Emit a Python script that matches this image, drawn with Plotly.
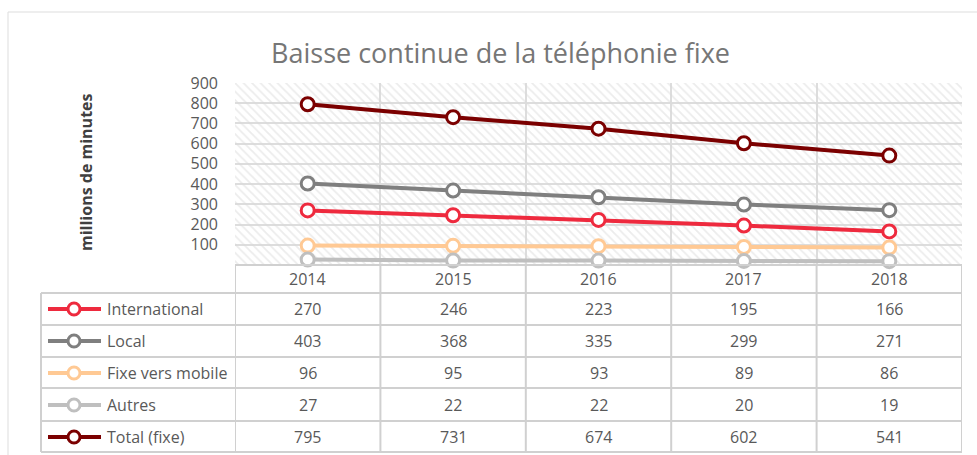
import plotly.graph_objects as go

# ---- data ----
years = ["2014", "2015", "2016", "2017", "2018"]
series_names = ["International", "Local", "Fixe vers mobile", "Autres", "Total (fixe)"]
international = [270, 246, 223, 195, 166]
local = [403, 368, 335, 299, 271]
fixe_vers_mobile = [96, 95, 93, 89, 86]
autres = [27, 22, 22, 20, 19]
total_fixe = [795, 731, 674, 602, 541]
series_values = [international, local, fixe_vers_mobile, autres, total_fixe]
series_colors = ["#ee2a3e", "#7f7f7f", "#ffc994", "#bfbfbf", "#7b0000"]
y_ticks = [100, 200, 300, 400, 500, 600, 700, 800, 900]
title_text = "Baisse continue de la téléphonie fixe"
y_title = "millions de minutes"

# ---- layout geometry (pixels) ----
W, H = 977, 455
L, R, T, B = 235, 962, 83, 265
FONT = "Open Sans"
TXT = "#595959"
GRID = "#dddddd"
TBL = "#d0d0d0"


def px(x):
    return (x - L) / (R - L)


def py(y):
    return (B - y) / (B - T)


xs = list(range(len(years)))
fig = go.Figure()

# hatched plot-area background
fig.add_trace(go.Scatter(
    x=[-0.5, len(years) - 0.5, len(years) - 0.5, -0.5, -0.5],
    y=[0, 0, 900, 900, 0],
    mode="lines", fill="toself", line=dict(width=0),
    fillcolor="rgba(0,0,0,0)",
    fillpattern=dict(shape="\\", fgcolor="#d9d9d9", bgcolor="rgba(0,0,0,0)",
                     size=6, solidity=0.3),
    hoverinfo="skip", showlegend=False))

for name, vals, col in zip(series_names, series_values, series_colors):
    fig.add_trace(go.Scatter(
        x=xs, y=vals, name=name, mode="lines+markers",
        line=dict(color=col, width=4),
        marker=dict(symbol="circle", size=13, color="white",
                    line=dict(color=col, width=3)),
        showlegend=False, cliponaxis=False))

shapes = []
annotations = []

# outer chart border
shapes.append(dict(type="rect", xref="paper", yref="paper",
                   x0=px(8), x1=px(1000), y0=py(470), y1=py(12),
                   line=dict(color=GRID, width=1), layer="below"))

# table grid
row_lines = [293, 325, 357, 388, 421, 452]
row_centers = [309, 341, 373, 405, 437]
col_bounds = [i - 0.5 for i in range(len(years) + 1)]
for yl in row_lines:
    shapes.append(dict(type="line", xref="paper", yref="paper",
                       x0=px(41), x1=1, y0=py(yl), y1=py(yl),
                       line=dict(color=TBL, width=2)))
shapes.append(dict(type="line", xref="paper", yref="paper",
                   x0=0, x1=1, y0=0, y1=0, line=dict(color=TBL, width=2)))
for cb in col_bounds:
    shapes.append(dict(type="line", xref="x", yref="paper",
                       x0=cb, x1=cb, y0=0, y1=py(452),
                       line=dict(color=TBL, width=2)))
shapes.append(dict(type="line", xref="paper", yref="paper",
                   x0=px(41), x1=px(41), y0=py(293), y1=py(452),
                   line=dict(color=TBL, width=2)))

# header years
for i, yr in enumerate(years):
    annotations.append(dict(x=i, xref="x", y=py(279), yref="paper", text=yr,
                            xanchor="center", yanchor="middle",
                            showarrow=False, font=dict(family=FONT, size=16, color=TXT)))

# rows
for r, (name, vals, col) in enumerate(zip(series_names, series_values, series_colors)):
    yc = py(row_centers[r])
    shapes.append(dict(type="line", xref="paper", yref="paper",
                       x0=px(48), x1=px(101), y0=yc, y1=yc,
                       line=dict(color=col, width=4)))
    shapes.append(dict(type="circle", xref="paper", yref="paper",
                       xsizemode="pixel", ysizemode="pixel",
                       xanchor=px(74), yanchor=yc, x0=-6, x1=6, y0=-6, y1=6,
                       fillcolor="white", line=dict(color=col, width=3)))
    annotations.append(dict(x=px(105), xref="paper", y=yc, yref="paper", text=name,
                            xanchor="left", yanchor="middle", showarrow=False,
                            font=dict(family=FONT, size=16, color=TXT)))
    for i, v in enumerate(vals):
        annotations.append(dict(x=i, xref="x", y=yc, yref="paper", text=str(v),
                                xanchor="center", yanchor="middle",
                                showarrow=False, font=dict(family=FONT, size=16, color=TXT)))

# title
annotations.append(dict(x=px(500), xref="paper", y=py(53), yref="paper", text=title_text,
                        showarrow=False, xanchor="center", yanchor="middle",
                        font=dict(family=FONT, size=27, color="#767676")))
# y-axis title
annotations.append(dict(x=px(86), xref="paper", y=py(172), yref="paper", text="<b>" + y_title + "</b>",
                        textangle=-90, showarrow=False, xanchor="center", yanchor="middle",
                        font=dict(family=FONT, size=16, color="#404040")))

fig.update_layout(
    width=W, height=H,
    margin=dict(l=L, r=W - R, t=T, b=H - B, pad=0),
    paper_bgcolor="white", plot_bgcolor="white",
    shapes=shapes, annotations=annotations,
    xaxis=dict(range=[-0.5, len(years) - 0.5], tickvals=col_bounds,
               showticklabels=False, showgrid=True, gridcolor=GRID, gridwidth=2,
               zeroline=False, ticks="", showline=False, fixedrange=True),
    yaxis=dict(range=[0, 900], tickvals=y_ticks, showgrid=True, gridcolor=GRID,
               gridwidth=2, zeroline=False, ticks="", ticklabelstandoff=16,
               tickfont=dict(family=FONT, size=16, color=TXT), fixedrange=True),
)

fig.write_html("out.html", config={"displayModeBar": False},
               post_script="document.body.style.margin='0';document.body.style.overflow='hidden';")
